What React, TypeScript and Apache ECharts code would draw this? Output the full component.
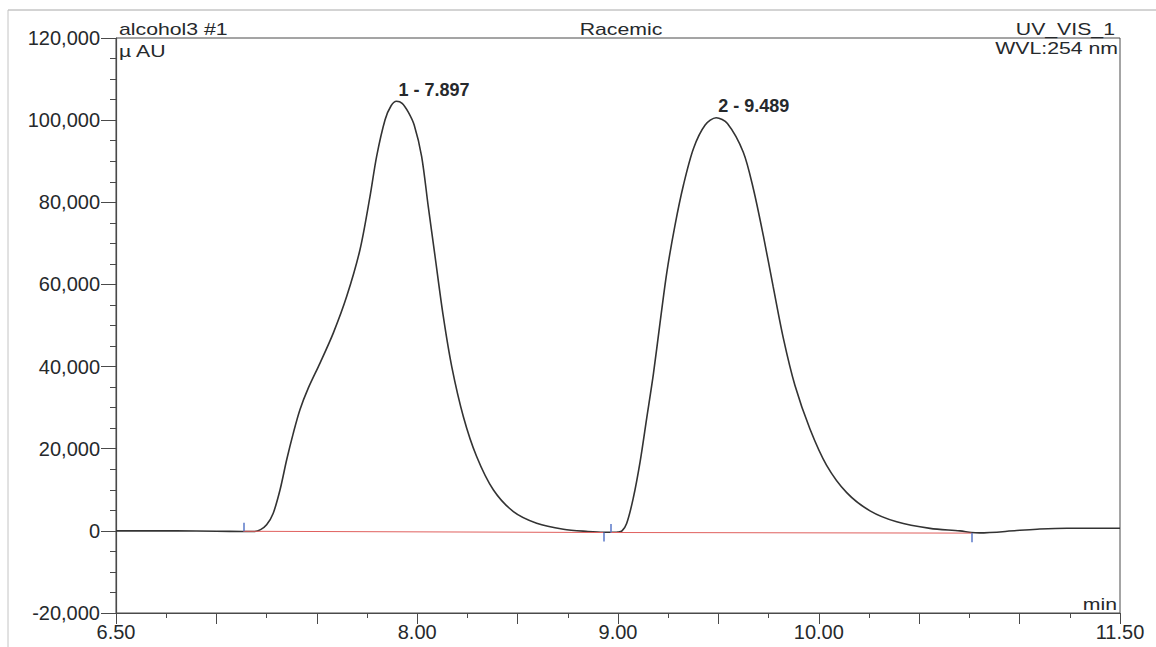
import React, { useEffect, useRef } from "react";
import * as echarts from "echarts";

// Chromatogram trace: retention time (min) and detector response (µAU)
const TIME = [
  6.5, 6.8, 7.0, 7.13, 7.19, 7.22, 7.25, 7.283, 7.317, 7.35, 7.383, 7.416, 7.458,
  7.516, 7.582, 7.649, 7.715, 7.765, 7.798, 7.84, 7.87, 7.897, 7.925, 7.955,
  7.985, 8.022, 8.055, 8.089, 8.13, 8.172, 8.23, 8.296, 8.379, 8.479, 8.595,
  8.728, 8.85, 8.93, 8.98, 9.0, 9.02, 9.043, 9.076, 9.11, 9.143, 9.176, 9.209,
  9.243, 9.284, 9.326, 9.376, 9.434, 9.489, 9.545, 9.624, 9.674, 9.724, 9.773,
  9.823, 9.881, 9.956, 10.039, 10.139, 10.255, 10.388, 10.554, 10.703, 10.76,
  10.8, 10.985, 11.1, 11.235, 11.5,
];
const SIGNAL = [
  0, 0, -100, -150, -150, 300, 1460, 4300, 10000, 17300, 23800, 29500, 34800,
  40850, 48150, 57100, 68450, 81450, 91200, 100100, 103500, 104600, 104100, 102000,
  98800, 91200, 79000, 66800, 52200, 40000, 27800, 18100, 10000, 4700, 1870,
  400, -150, -350, -350, -300, 0, 1780, 7960, 16800, 27450, 38100, 50500,
  62900, 74450, 84200, 93100, 98800, 100600, 99200, 92200, 83300, 71800, 59400,
  47000, 35450, 24800, 15950, 9300, 4870, 2200, 600, 0, -400,
  -500, 70, 450, 650, 650,
];

// Integrated peaks: number, retention time, height
const PEAK_NO = [1, 2];
const PEAK_TIME = [7.897, 9.489];
const PEAK_HEIGHT = [104600, 100600];

// Integration baselines [t1, v1, t2, v2]
const BASELINES = [
  [7.134, -100, 8.927, -400],
  [8.963, -400, 10.761, -550],
];

// Peak delimiter marks [t, from, to]
const DELIMITERS = [
  [7.134, -100, 2000],
  [8.927, -400, -2600],
  [8.963, -400, 1700],
  [10.761, -550, -2800],
];

const X_LABELS = [6.5, 8, 9, 10, 11.5];

const FONT = '"Liberation Sans", Arial, Helvetica, sans-serif';
const INK = "#26292c";

export default function App() {
  const ref = useRef<HTMLDivElement>(null);

  useEffect(() => {
    if (!ref.current) return;
    const chart = echarts.init(ref.current, undefined, { renderer: "svg" });

    const trace = TIME.map((t, i) => [t, SIGNAL[i]]);

    const headerText = (
      text: string,
      x: number,
      y: number,
      align: string
    ) => ({
      type: "text",
      x,
      y,
      scaleX: 1.25,
      style: {
        text,
        fontSize: 17,
        fontFamily: FONT,
        fill: INK,
        align,
        verticalAlign: "middle",
      },
    });

    chart.setOption({
      animation: false,
      backgroundColor: "#ffffff",
      grid: {
        left: 116,
        right: 36,
        top: 38,
        bottom: 34,
        show: true,
        borderColor: "#4a4a4a",
        borderWidth: 1,
      },
      xAxis: {
        type: "value",
        min: 6.5,
        max: 11.5,
        interval: 0.5,
        axisLine: { onZero: false, lineStyle: { color: "#4a4a4a", width: 1.2 } },
        axisTick: { show: true, length: 11, lineStyle: { color: "#4a4a4a" } },
        minorTick: { show: true, splitNumber: 2, length: 5, lineStyle: { color: "#4a4a4a" } },
        splitLine: { show: false },
        axisLabel: {
          margin: 9,
          fontSize: 20,
          fontFamily: FONT,
          color: INK,
          formatter: (v: number) =>
            X_LABELS.some((l) => Math.abs(l - v) < 1e-6) ? v.toFixed(2) : "",
        },
      },
      yAxis: {
        type: "value",
        min: -20000,
        max: 120000,
        interval: 20000,
        axisLine: { show: true, onZero: false, lineStyle: { color: "#4a4a4a", width: 1.2 } },
        axisTick: { show: true, length: 15, lineStyle: { color: "#4a4a4a" } },
        minorTick: { show: true, splitNumber: 4, length: 6, lineStyle: { color: "#4a4a4a" } },
        splitLine: { show: false },
        axisLabel: {
          margin: 16,
          fontSize: 20,
          fontFamily: FONT,
          color: INK,
          formatter: (v: number) => v.toLocaleString("en-US"),
        },
      },
      series: [
        {
          name: "UV_VIS_1",
          type: "line",
          data: trace,
          showSymbol: false,
          smooth: 0.3,
          lineStyle: { color: "#333333", width: 1.6 },
          z: 3,
          markPoint: {
            symbol: "circle",
            symbolSize: 1,
            itemStyle: { color: "rgba(0,0,0,0)" },
            label: {
              show: true,
              position: "top",
              distance: 2,
              offset: [2, 0],
              align: "left",
              verticalAlign: "bottom",
              fontSize: 18,
              fontWeight: "bold",
              fontFamily: FONT,
              color: INK,
            },
            data: PEAK_TIME.map((t, i) => ({
              coord: [t, PEAK_HEIGHT[i]],
              value: `${PEAK_NO[i]} - ${t.toFixed(3)}`,
              label: { formatter: `${PEAK_NO[i]} - ${t.toFixed(3)}` },
            })),
          },
        },
        {
          name: "baseline",
          type: "line",
          data: [],
          z: 2,
          markLine: {
            silent: true,
            symbol: "none",
            label: { show: false },
            lineStyle: { color: "#e0605e", width: 1, type: "solid" },
            data: BASELINES.map((b) => [
              { coord: [b[0], b[1]] },
              { coord: [b[2], b[3]] },
            ]),
          },
        },
        {
          name: "delimiters",
          type: "line",
          data: [],
          z: 4,
          markLine: {
            silent: true,
            symbol: "none",
            label: { show: false },
            lineStyle: { color: "#5a78c8", width: 1.5, type: "solid" },
            data: DELIMITERS.map((d) => [
              { coord: [d[0], d[1]] },
              { coord: [d[0], d[2]] },
            ]),
          },
        },
      ],
      graphic: [
        {
          type: "line",
          shape: { x1: 8, y1: 10, x2: 1156, y2: 10 },
          style: { stroke: "#a8a8a8", lineWidth: 1 },
        },
        {
          type: "line",
          shape: { x1: 8, y1: 10, x2: 8, y2: 647 },
          style: { stroke: "#c4c4c4", lineWidth: 1 },
        },
        headerText("alcohol3 #1", 119, 29, "left"),
        headerText("Racemic", 621, 29, "center"),
        headerText("UV_VIS_1", 1115, 29, "right"),
        headerText("µ AU", 119, 51, "left"),
        headerText("WVL:254 nm", 1118, 48, "right"),
        headerText("min", 1117, 604, "right"),
      ],
    });

    return () => chart.dispose();
  }, []);

  return (
    <div
      ref={ref}
      style={{ position: "fixed", left: 0, top: 0, width: 1156, height: 647 }}
    />
  );
}
